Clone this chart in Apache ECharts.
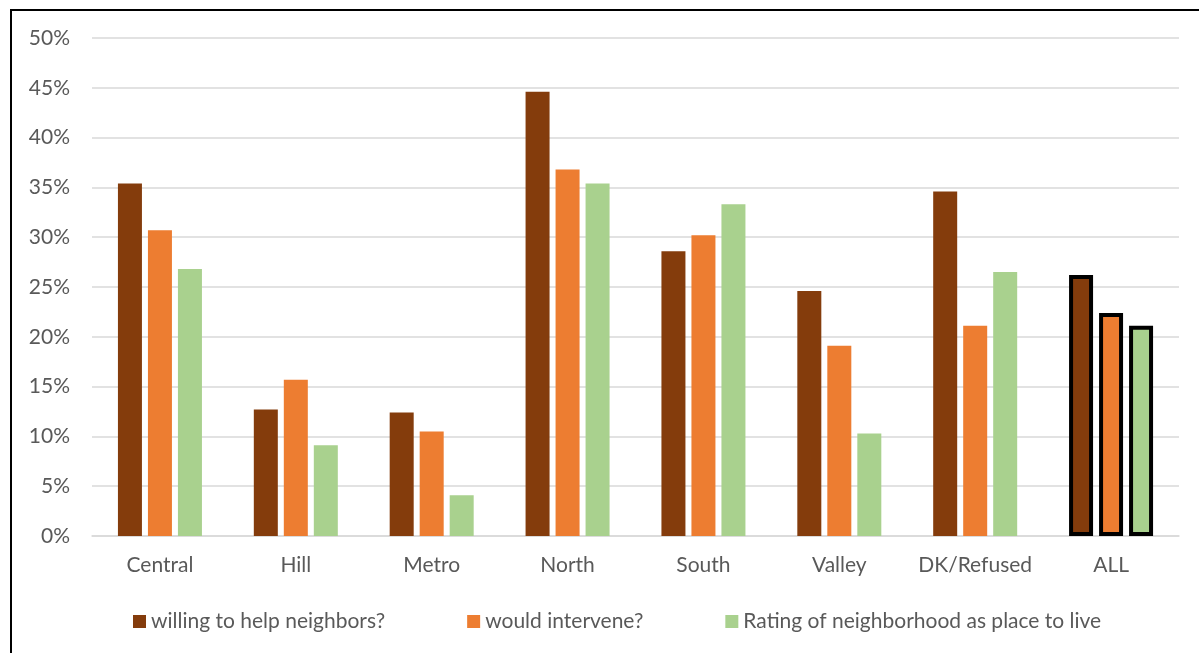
<!DOCTYPE html>
<html>
<head>
<meta charset="utf-8">
<script src="https://cdn.jsdelivr.net/npm/echarts@6/dist/echarts.min.js"></script>
<style>
  html, body { margin: 0; padding: 0; background: #fff; }
  #chart { width: 1199px; height: 653px; }
</style>
</head>
<body>
<div id="chart"></div>
<script>
// Share of respondents by area
const categories = ['Central', 'Hill', 'Metro', 'North', 'South', 'Valley', 'DK/Refused', 'ALL'];
const seriesNames = ['willing to help neighbors?', 'would intervene?', 'Rating of neighborhood as place to live'];
const willingHelp = [35.4, 12.7, 12.4, 44.6, 28.6, 24.6, 34.6, 26.2];
const wouldIntervene = [30.7, 15.7, 10.5, 36.8, 30.2, 19.1, 21.1, 22.4];
const ratingPlace = [26.8, 9.1, 4.1, 35.4, 33.3, 10.3, 26.5, 21.1];
const seriesColors = ['#843C0C', '#ED7D31', '#A9D18E'];

const textColor = '#595959';
const fontFamily = 'Lato, "Open Sans", sans-serif';
const fontSize = 21;

// The overall column is outlined in black
function withOutline(values) {
  return values.map((v, i) => i === categories.length - 1
    ? { value: v, itemStyle: { borderColor: '#000', borderWidth: 4 } }
    : v);
}

const seriesValues = [willingHelp, wouldIntervene, ratingPlace];

const chart = echarts.init(document.getElementById('chart'), null, { renderer: 'canvas' });
chart.setOption({
  animation: false,
  backgroundColor: '#fff',
  textStyle: { fontFamily: fontFamily },
  graphic: [{
    type: 'rect',
    shape: { x: 11, y: 10, width: 1400, height: 1000 },
    style: { fill: 'none', stroke: '#000', lineWidth: 2 },
    silent: true
  }],
  grid: { left: 92, right: 20, top: 38, bottom: 117, containLabel: false },
  legend: {
    top: 606,
    left: 128,
    itemWidth: 13,
    itemHeight: 13,
    itemGap: 82,
    icon: 'rect',
    textStyle: { color: textColor, fontSize: fontSize, fontFamily: fontFamily },
    data: seriesNames
  },
  xAxis: {
    type: 'category',
    data: categories,
    axisLine: { show: true, lineStyle: { color: '#D9D9D9', width: 1.5 } },
    axisTick: { show: false },
    axisLabel: { color: textColor, fontSize: fontSize, margin: 19, interval: 0, fontFamily: fontFamily }
  },
  yAxis: {
    type: 'value',
    min: 0,
    max: 50,
    interval: 5,
    axisLine: { show: false },
    axisTick: { show: false },
    splitLine: { lineStyle: { color: '#D9D9D9', width: 1.5 } },
    axisLabel: { color: textColor, fontSize: fontSize, margin: 22, formatter: '{value}%', fontFamily: fontFamily }
  },
  series: seriesNames.map((name, i) => ({
    name: name,
    type: 'bar',
    barWidth: 24,
    barGap: '25%',
    itemStyle: { color: seriesColors[i] },
    data: withOutline(seriesValues[i])
  }))
});
</script>
</body>
</html>
